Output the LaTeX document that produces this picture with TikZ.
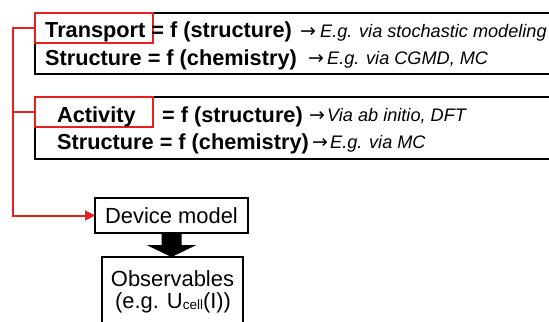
\documentclass[tikz,border=0pt]{standalone}
\usepackage{fontspec}
\setmainfont{Liberation Sans}
\newfontfamily\arrowfont{DejaVu Sans}
\usetikzlibrary{arrows.meta,calc}
\definecolor{redc}{RGB}{228,32,32}
\begin{document}
\begin{tikzpicture}[x=1bp,y=-1bp,
  blackbox/.style={draw=black, line width=1.7bp, anchor=north west, inner sep=0pt, outer sep=0pt, minimum width=520bp},
  redbox/.style={draw=redc, line width=2.4bp, anchor=north west, inner sep=0pt, outer sep=0pt, minimum width=118bp, minimum height=30bp},
  boldtxt/.style={anchor=base west, inner sep=0pt, font=\fontsize{21.8}{24}\selectfont\bfseries},
  itxt/.style={anchor=base west, inner sep=0pt, font=\fontsize{18.2}{20}\selectfont\itshape},
  arrtxt/.style={anchor=base west, inner sep=0pt, font=\arrowfont\fontsize{19}{20}\selectfont},
  plainbox/.style={draw=black, line width=1.7bp, inner sep=0pt, outer sep=0pt, anchor=north west, font=\fontsize{22}{25}\selectfont},
  plaintxt/.style={anchor=base, inner sep=0pt, text height=16bp, text depth=4bp, font=\fontsize{22}{25}\selectfont},
  redline/.style={draw=redc, line width=2bp}]
\useasboundingbox (0,0) rectangle (549,321);
\clip (0,0) rectangle (549,321);
% black boxes
\node[blackbox, minimum height=61bp] (box1) at (35,13) {};
\node[blackbox, minimum height=62bp] (box2) at (35,97) {};
% red boxes
\node[redbox] (trbox) at (35,13) {};
\node[redbox] (actbox) at (35,97) {};
% texts box 1
\node[boldtxt] (t1) at (45,37.5) {Transport = f (structure)};
\node[arrtxt] (r1) at (300,37) {→};
\node[itxt] (a1) at (320,37) {E.g. via stochastic modeling};
\node[boldtxt] (t2) at (45,65) {Structure = f (chemistry)};
\node[arrtxt] (r2) at (308,64) {→};
\node[itxt] (a2) at (327,64) {E.g. via CGMD, MC};
% texts box 2
\node[boldtxt] (t3) at (57,122) {Activity};
\node[boldtxt] (t3b) at (162,122) {= f (structure)};
\node[arrtxt] (r3) at (309,121) {→};
\node[itxt] (a3) at (327,121) {Via ab initio, DFT};
\node[boldtxt] (t4) at (57,149) {Structure = f (chemistry)};
\node[arrtxt] (r4) at (312,148) {→};
\node[itxt] (a4) at (330,148) {E.g. via MC};
% device model and observables
\node[plainbox, minimum width=153bp, minimum height=35bp] (dev) at (95,198) {Device model};
\node[plainbox, minimum width=141bp, minimum height=80bp] (obs) at (102,257) {};
\node[plaintxt] (o1) at (172.5,286) {Observables};
\node[plaintxt] (o2) at (173,308) {(e.g. U\raisebox{-1bp}{\fontsize{13.5}{14}\selectfont cell}(I))};
% red connectors
\draw[redline, -{Triangle[length=10bp,width=10bp]}] (trbox.west) -- ++(-22,0) |- (dev.west);
\draw[redline] (actbox.west) -- ++(-22,0);
% fat arrow
\fill[black] ([xshift=-10bp]dev.south) -- ([xshift=10bp]dev.south)
  -- ([xshift=10bp,yshift=-12bp]dev.south) -- ([xshift=25bp,yshift=-12bp]dev.south)
  -- (obs.north -| dev.south) -- ([xshift=-25bp,yshift=-12bp]dev.south)
  -- ([xshift=-10bp,yshift=-12bp]dev.south) -- cycle;
\end{tikzpicture}
\end{document}
